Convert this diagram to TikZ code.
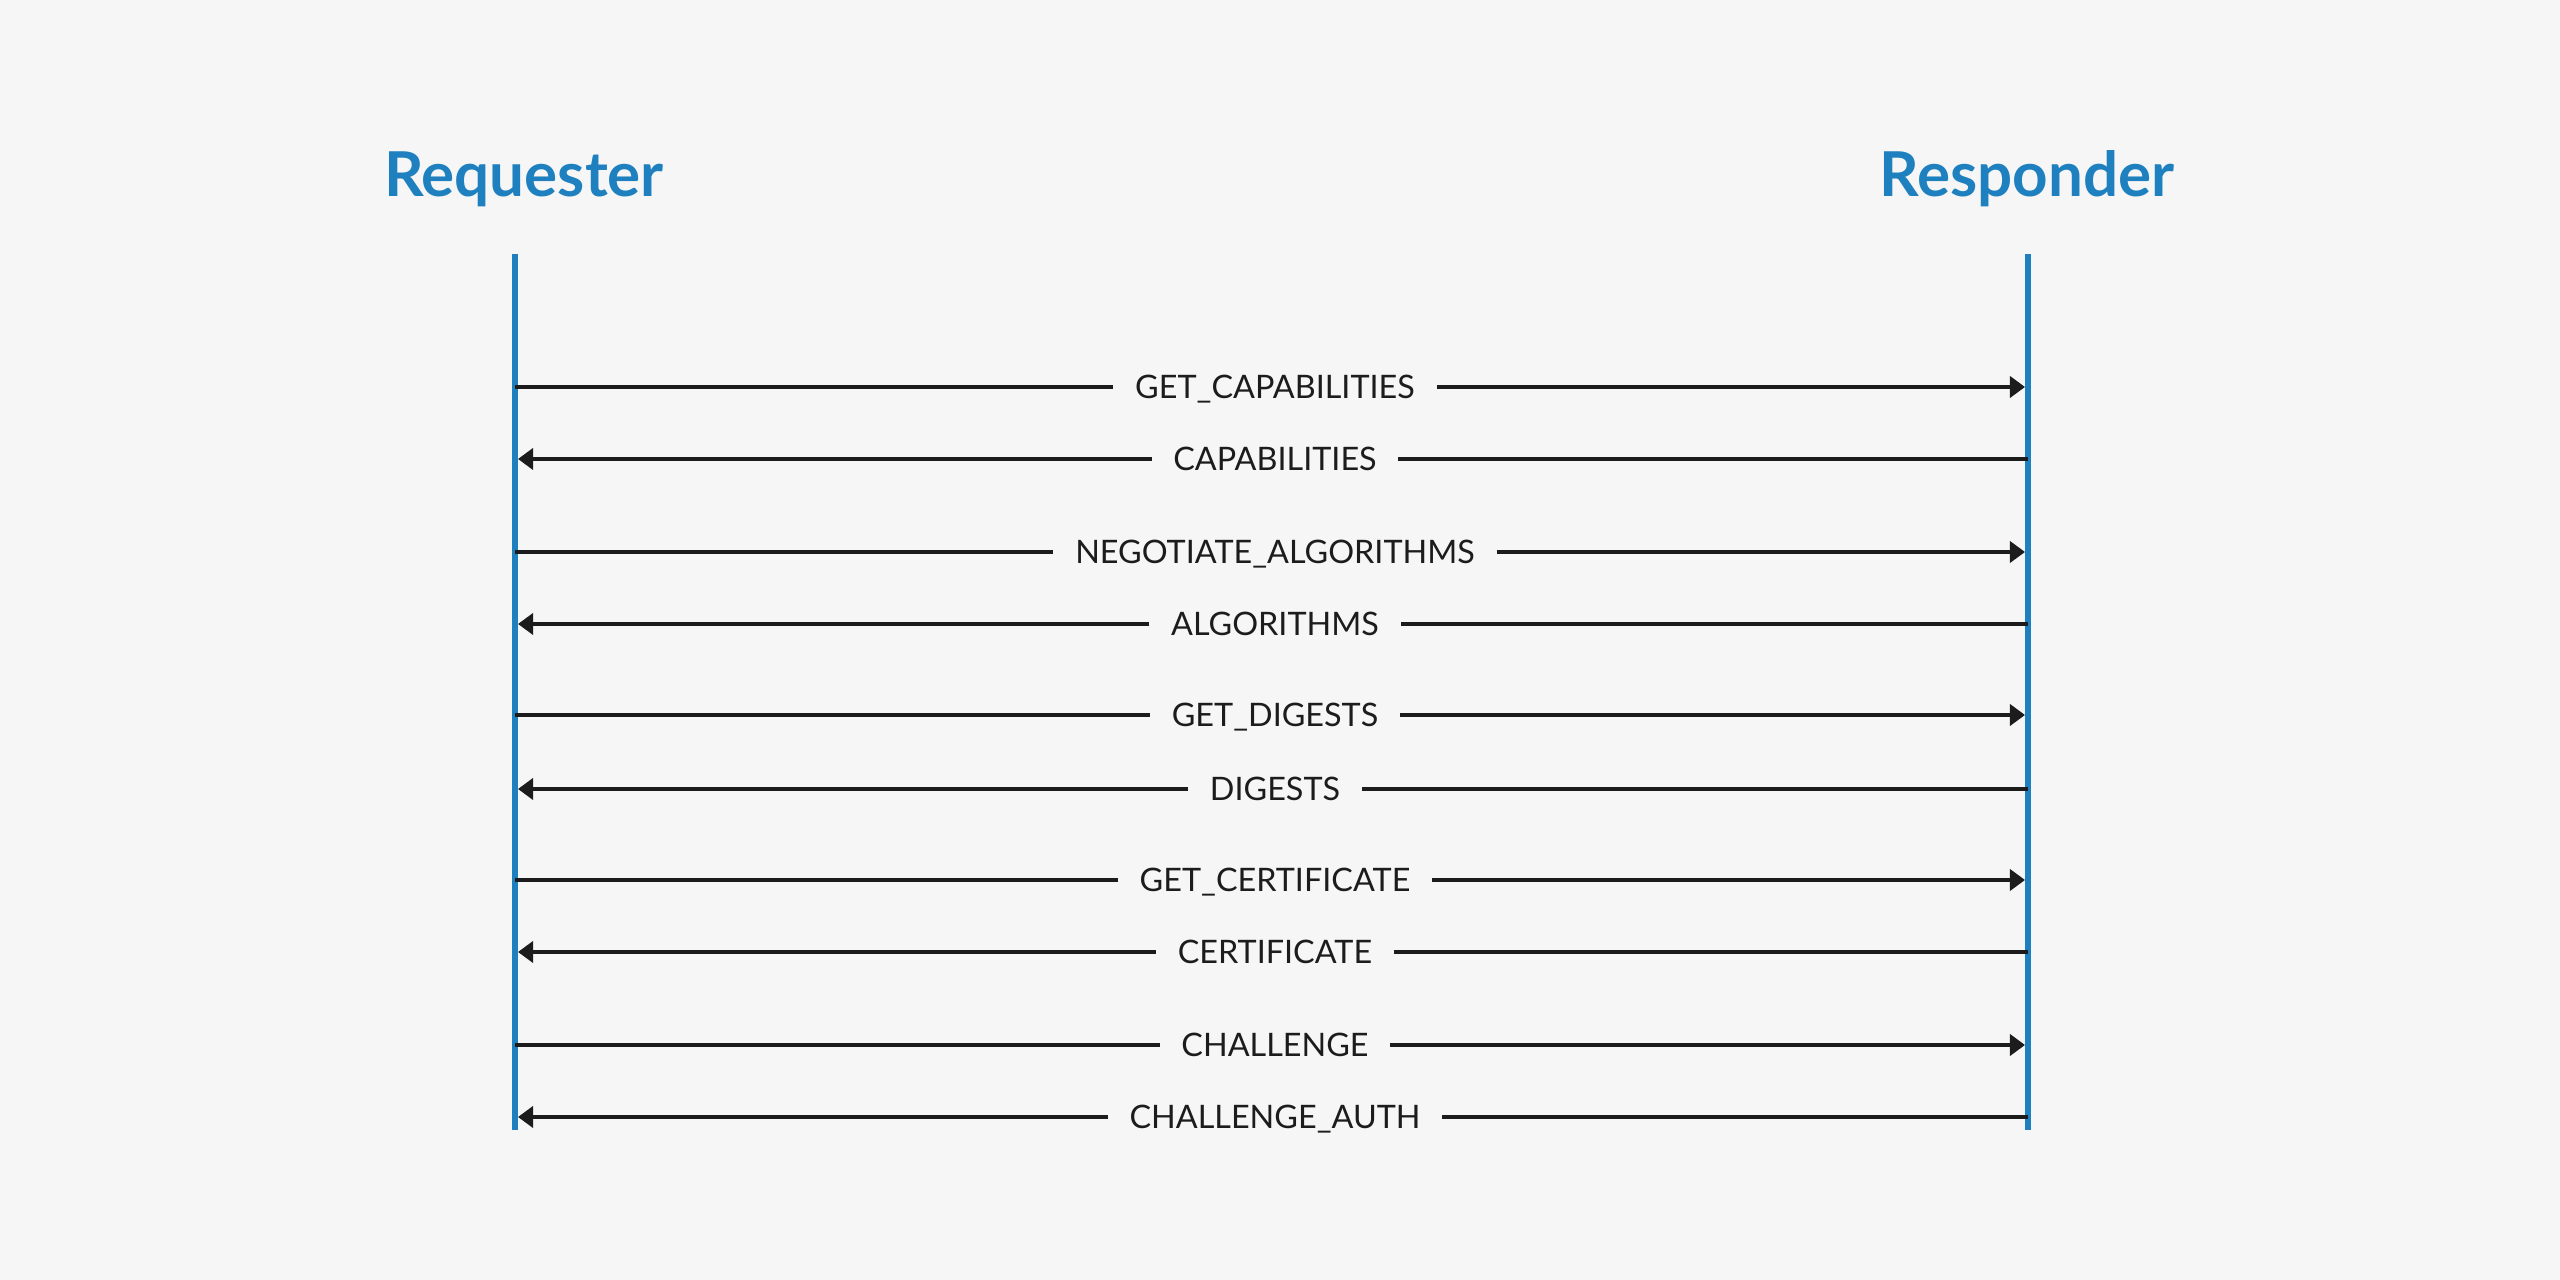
\documentclass[tikz,border=0pt]{standalone}
\usepackage{fontspec}
\setmainfont{Lato}
\usetikzlibrary{arrows.meta}
\definecolor{lineblue}{HTML}{1F80BF}
\definecolor{paper}{HTML}{F6F6F6}
\definecolor{inkblack}{HTML}{1C1C1C}

\begin{document}
\begin{tikzpicture}[x=0.01cm,y=-0.01cm,
  actor/.style={text=lineblue,font=\fontsize{17.6}{20}\selectfont\bfseries,anchor=base,inner sep=0pt},
  lifeline/.style={draw=lineblue,line width=1.7pt},
  msgtext/.style={text=inkblack,font=\fontsize{9.2}{11}\selectfont,anchor=base,inner xsep=6pt,inner ysep=0pt},
  msg/.style={draw=inkblack,line width=1.25pt},
  tomsg/.style={msg,-{Triangle[length=4.3pt,width=6pt]},shorten >=0.85pt}]
%================================================================
%	Background
\fill[paper] (0,0) rectangle (2560,1280);
\useasboundingbox (0,0) rectangle (2560,1280);
%================================================================
%	Actors
\node[actor] (req) at (524,197) {Requester};
\node[actor] (res) at (2027,197) {Responder};
%----------------------------------------------------------------
\coordinate (reqtop) at (515,254);
\coordinate (reqbot) at (515,1130);
\coordinate (restop) at (2028,254);
\coordinate (resbot) at (2028,1130);
\draw[lifeline] (reqtop) -- (reqbot);
\draw[lifeline] (restop) -- (resbot);
%================================================================
%	Messages
\node[msgtext] (m1) at (1275,399) {GET\_CAPABILITIES};
\node[msgtext] (m2) at (1275,471) {CAPABILITIES};
\node[msgtext] (m3) at (1275,564) {NEGOTIATE\_ALGORITHMS};
\node[msgtext] (m4) at (1275,636) {ALGORITHMS};
\node[msgtext] (m5) at (1275,727) {GET\_DIGESTS};
\node[msgtext] (m6) at (1275,801) {DIGESTS};
\node[msgtext] (m7) at (1275,892) {GET\_CERTIFICATE};
\node[msgtext] (m8) at (1275,964) {CERTIFICATE};
\node[msgtext] (m9) at (1275,1057) {CHALLENGE};
\node[msgtext] (m10) at (1275,1129) {CHALLENGE\_AUTH};
%----------------------------------------------------------------
\coordinate (a1) at (515,387);  \coordinate (b1) at (2028,387);
\coordinate (a2) at (515,459);  \coordinate (b2) at (2028,459);
\coordinate (a3) at (515,552);  \coordinate (b3) at (2028,552);
\coordinate (a4) at (515,624);  \coordinate (b4) at (2028,624);
\coordinate (a5) at (515,715);  \coordinate (b5) at (2028,715);
\coordinate (a6) at (515,789);  \coordinate (b6) at (2028,789);
\coordinate (a7) at (515,880);  \coordinate (b7) at (2028,880);
\coordinate (a8) at (515,952);  \coordinate (b8) at (2028,952);
\coordinate (a9) at (515,1045); \coordinate (b9) at (2028,1045);
\coordinate (a10) at (515,1117); \coordinate (b10) at (2028,1117);
%----------------------------------------------------------------
%	Requester -> Responder
\draw[msg] (a1) -- (m1.west |- a1);
\draw[tomsg] (m1.east |- b1) -- (b1);
\draw[msg] (a3) -- (m3.west |- a3);
\draw[tomsg] (m3.east |- b3) -- (b3);
\draw[msg] (a5) -- (m5.west |- a5);
\draw[tomsg] (m5.east |- b5) -- (b5);
\draw[msg] (a7) -- (m7.west |- a7);
\draw[tomsg] (m7.east |- b7) -- (b7);
\draw[msg] (a9) -- (m9.west |- a9);
\draw[tomsg] (m9.east |- b9) -- (b9);
%----------------------------------------------------------------
%	Responder -> Requester
\draw[msg] (b2) -- (m2.east |- b2);
\draw[tomsg] (m2.west |- a2) -- (a2);
\draw[msg] (b4) -- (m4.east |- b4);
\draw[tomsg] (m4.west |- a4) -- (a4);
\draw[msg] (b6) -- (m6.east |- b6);
\draw[tomsg] (m6.west |- a6) -- (a6);
\draw[msg] (b8) -- (m8.east |- b8);
\draw[tomsg] (m8.west |- a8) -- (a8);
\draw[msg] (b10) -- (m10.east |- b10);
\draw[tomsg] (m10.west |- a10) -- (a10);

%================================================================
\end{tikzpicture}
\end{document}
